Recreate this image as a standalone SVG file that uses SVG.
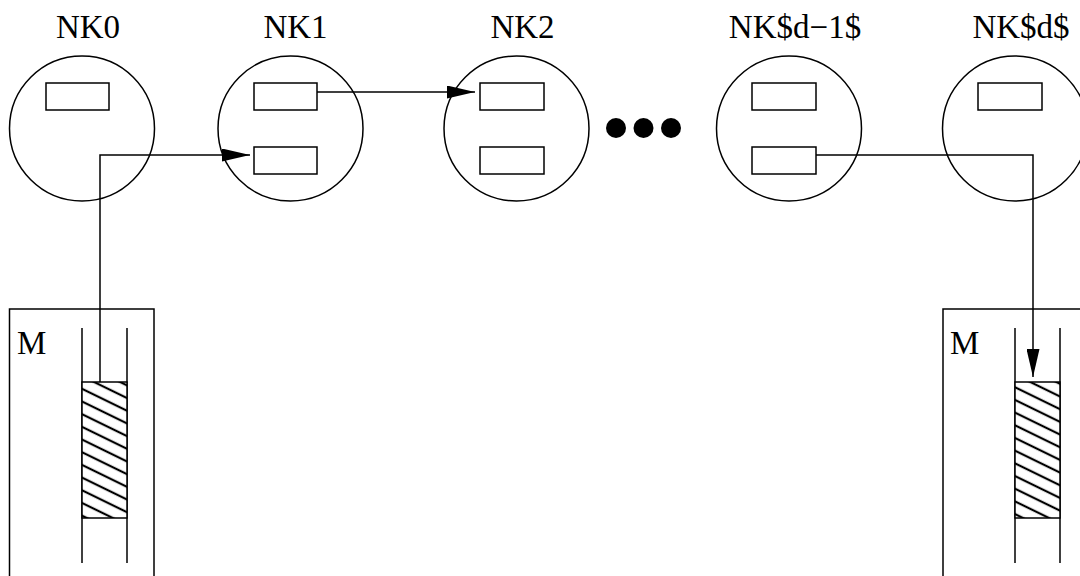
<svg xmlns="http://www.w3.org/2000/svg" width="1080" height="576" viewBox="0 0 1080 576">
<style>
.ln{fill:none;stroke:#000;stroke-width:1.5}
.lbl{font-family:'Liberation Serif','Times New Roman',Times,serif;font-size:33px;fill:#000}
.hatch{fill:url(#hp);stroke:#000;stroke-width:1.5}
</style>
<defs>
<marker id="ah" markerUnits="userSpaceOnUse" markerWidth="28" markerHeight="13" refX="28" refY="6.5" orient="auto">
<path d="M0,0 L28,6.5 L0,13 z" fill="#000"/>
</marker>
<pattern id="hp" patternUnits="userSpaceOnUse" width="20" height="11.4" patternTransform="rotate(26)">
<rect width="20" height="11.4" fill="#fff"/>
<line x1="0" y1="5.7" x2="20" y2="5.7" stroke="#000" stroke-width="2.2"/>
</pattern>
</defs>
<rect width="1080" height="576" fill="#fff"/>
<g id="NK0">
<circle class="ln" cx="82" cy="128.5" r="72.5"/>
<rect class="ln" x="46" y="83" width="63" height="27"/>
<text class="lbl" font-family="Liberation Serif, serif" x="88" y="38" text-anchor="middle">NK0</text>
</g>
<g id="NK1">
<circle class="ln" cx="290.5" cy="128.5" r="72.5"/>
<rect class="ln" x="254" y="83" width="63" height="27"/>
<rect class="ln" x="254" y="147" width="63" height="27"/>
<text class="lbl" font-family="Liberation Serif, serif" x="295.5" y="38" text-anchor="middle">NK1</text>
</g>
<g id="NK2">
<circle class="ln" cx="516.5" cy="128.5" r="72.5"/>
<rect class="ln" x="480" y="83" width="64" height="27"/>
<rect class="ln" x="480" y="147" width="64" height="27"/>
<text class="lbl" font-family="Liberation Serif, serif" x="522.5" y="38" text-anchor="middle">NK2</text>
</g>
<g id="dots">
<circle cx="616" cy="128" r="10"/>
<circle cx="643.5" cy="128" r="10"/>
<circle cx="671" cy="128" r="10"/>
</g>
<g id="NKd-1">
<circle class="ln" cx="789" cy="128.5" r="72.5"/>
<rect class="ln" x="752" y="83" width="64" height="27"/>
<rect class="ln" x="752" y="147" width="64" height="27"/>
<text class="lbl" font-family="Liberation Serif, serif" x="795" y="38" text-anchor="middle">NK$d−1$</text>
</g>
<g id="NKd">
<circle class="ln" cx="1015" cy="128.5" r="72.5"/>
<rect class="ln" x="978" y="83" width="64" height="27"/>
<text class="lbl" font-family="Liberation Serif, serif" x="1021" y="38" text-anchor="middle">NK$d$</text>
</g>
<g id="M0">
<rect class="ln" x="9.5" y="309" width="144.5" height="300"/>
<line class="ln" x1="82" y1="328" x2="82" y2="563"/>
<line class="ln" x1="127" y1="328" x2="127" y2="563"/>
<rect class="hatch" x="82" y="382" width="45" height="136"/>
<text class="lbl" font-family="Liberation Serif, serif" x="17" y="354">M</text>
</g>
<g id="Md">
<rect class="ln" x="943" y="309" width="200" height="300"/>
<line class="ln" x1="1015" y1="328" x2="1015" y2="563"/>
<line class="ln" x1="1060" y1="328" x2="1060" y2="563"/>
<rect class="hatch" x="1015" y="382" width="45" height="136"/>
<text class="lbl" font-family="Liberation Serif, serif" x="950" y="354">M</text>
</g>
<g id="connectors">
<path class="ln" d="M100,382 V155 H250" marker-end="url(#ah)"/>
<path class="ln" d="M317,92 H475" marker-end="url(#ah)"/>
<path class="ln" d="M816,155 H1033 V377" marker-end="url(#ah)"/>
</g>
</svg>
